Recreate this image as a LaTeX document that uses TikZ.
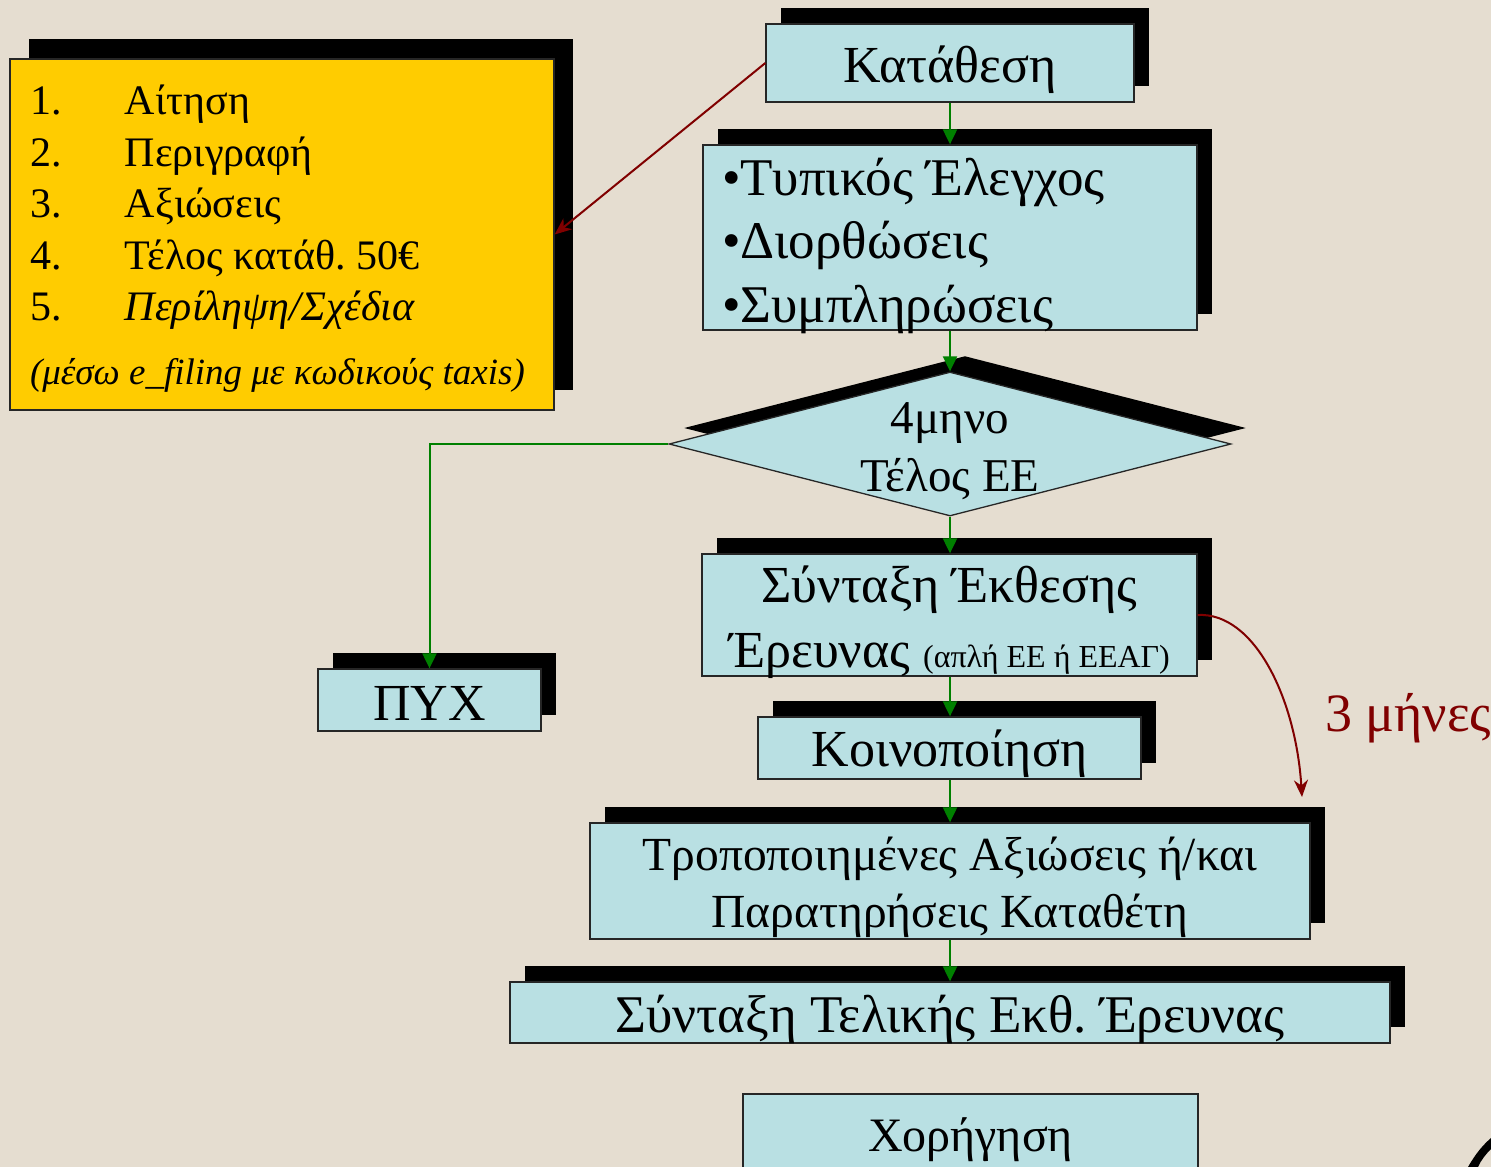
\documentclass[tikz,border=0pt]{standalone}
\usepackage{fontspec}
\setmainfont{Liberation Serif}
\usetikzlibrary{shapes.geometric,shadows,arrows.meta}
\definecolor{bgc}{HTML}{E5DDD0}
\definecolor{boxblue}{HTML}{B9E0E3}
\definecolor{ybox}{HTML}{FFCC00}
\definecolor{garrow}{HTML}{008000}
\definecolor{rarrow}{HTML}{800000}
\newcommand\lowr[2][7pt]{\raisebox{-#1}[\height][\depth]{#2}}
\frenchspacing
\tikzset{
  shbox/.style={draw=black!85, line width=1.3pt, fill=boxblue, inner sep=0pt,
    general shadow={fill=black, shadow xshift=15pt, shadow yshift=16pt}},
  plainbox/.style={draw=black!85, line width=1.3pt, fill=boxblue, inner sep=0pt},
  yelbox/.style={draw=black!85, line width=1.3pt, fill=ybox, inner sep=0pt,
    general shadow={fill=black, shadow xshift=19pt, shadow yshift=20pt}},
  garr/.style={draw=garrow, line width=2pt, -{Triangle[width=14pt,length=15pt]}},
  rarr/.style={draw=rarrow, line width=2pt, -{Stealth[width=14pt,length=17pt]}},
  big/.style={font=\fontsize{52}{63.5}\selectfont},
}
\begin{document}
\begin{tikzpicture}[x=1pt,y=-1pt]
\useasboundingbox (0,0) rectangle (1491,1167);
\clip (0,0) rectangle (1491,1167);
\fill[bgc] (0,0) rectangle (1491,1167);

% yellow requirements box
\node[yelbox, minimum width=544pt, minimum height=351pt,
  font=\fontsize{42}{51.5}\selectfont] (req) at (282,234.5)
  {\lowr[4pt]{\parbox{504pt}{\raggedright
   \makebox[95pt][l]{1.}Αίτηση\\
   \makebox[95pt][l]{2.}Περιγραφή\\
   \makebox[95pt][l]{3.}Αξιώσεις\\
   \makebox[95pt][l]{4.}Τέλος κατάθ. 50€\\
   \makebox[95pt][l]{5.}\textit{Περίληψη/Σχέδια}\\[12pt]
   \mbox{\fontsize{37}{44}\selectfont\textit{(μέσω e\_filing με κωδικούς taxis)}}}}};

% flow boxes
\node[shbox, big, minimum width=368pt, minimum height=78pt] (kat) at (950,63) {\lowr{Κατάθεση}};
\node[shbox, minimum width=494pt, minimum height=185pt,
  font=\fontsize{53}{63.5}\selectfont] (chk) at (950,237.5)
  {\lowr[8pt]{\parbox{456pt}{\raggedright •Τυπικός Έλεγχος\\•Διορθώσεις\\•Συμπληρώσεις}}};
\node[diamond, draw=black!85, line width=1.3pt, fill=boxblue, inner sep=0pt,
  minimum width=562pt, minimum height=144pt,
  general shadow={fill=black, shadow xshift=15pt, shadow yshift=16pt}] (dia) at (950,444) {};
\node[font=\fontsize{47}{58}\selectfont, inner sep=0pt] (diat) at ([yshift=-7pt]dia.center)
  {\parbox{300pt}{\centering 4μηνο\\Τέλος ΕΕ}};
\node[shbox, big, minimum width=223pt, minimum height=62pt] (pyx) at (429.5,700) {\lowr[3pt]{ΠΥΧ}};
\node[shbox, minimum width=495pt, minimum height=122pt,
  font=\fontsize{52}{65}\selectfont] (syn) at (949.5,615)
  {\lowr{\parbox{480pt}{\centering Σύνταξη Έκθεσης\\Έρευνας {\fontsize{32}{36}\selectfont(απλή ΕΕ ή ΕΕΑΓ)}}}};
\node[shbox, big, minimum width=383pt, minimum height=62pt] (koin) at (949.5,748) {\lowr[6pt]{Κοινοποίηση}};
\node[shbox, minimum width=720pt, minimum height=116pt,
  font=\fontsize{47.5}{57}\selectfont] (trop) at (950,881)
  {\lowr[6pt]{\parbox{700pt}{\centering Τροποποιημένες Αξιώσεις ή/και\\Παρατηρήσεις Καταθέτη}}};
\node[shbox, minimum width=880pt, minimum height=61pt, font=\fontsize{53}{60}\selectfont] (tel) at (950,1012.5)
  {\lowr{Σύνταξη Τελικής Εκθ. Έρευνας}};
\node[plainbox, minimum width=455pt, minimum height=86pt, font=\fontsize{48}{55}\selectfont] (xor) at (970.5,1137)
  {\lowr[3pt]{Χορήγηση}};

% connectors
\draw[garr] (kat.south -| 950,0) -- (chk.north -| 950,0);
\draw[garr] (chk.south -| 950,0) -- (dia.north);
\draw[garr] (dia.west) -| (pyx.north);
\draw[garr] (dia.south) -- (syn.north -| 950,0);
\draw[garr] (syn.south -| 950,0) -- (koin.north -| 950,0);
\draw[garr] (koin.south -| 950,0) -- (trop.north -| 950,0);
\draw[garr] (trop.south -| 950,0) -- (tel.north -| 950,0);

\draw[rarr] (kat.west) -- (req.east);

\coordinate (t3) at (1302,797);
\draw[rarr] (syn.east) .. controls (1255,612) and (1296,700) .. (t3);
\node[anchor=west, text=rarrow, font=\fontsize{54}{60}\selectfont, inner sep=0pt] (lbl) at (1325,718) {3 μήνες};

% corner fragment
\fill[black] (1468,1167) .. controls (1476,1153) and (1483,1145) .. (1491,1138)
  -- (1491,1149) .. controls (1486,1154) and (1481,1160) .. (1478,1167) -- cycle;
\end{tikzpicture}
\end{document}
